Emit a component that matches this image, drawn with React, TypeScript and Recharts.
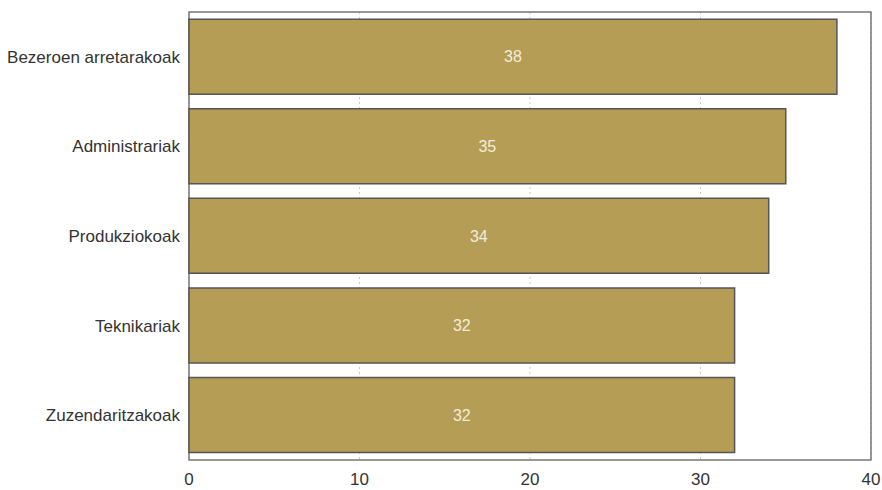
import { BarChart, Bar, XAxis, YAxis, CartesianGrid, LabelList, ReferenceArea } from 'recharts';

const categories = ['Bezeroen arretarakoak', 'Administrariak', 'Produkziokoak', 'Teknikariak', 'Zuzendaritzakoak'];
const values = [38, 35, 34, 32, 32];
const xTicks = [0, 10, 20, 30, 40];

const data = categories.map((name, i) => ({ name, value: values[i] }));

const font = "'Liberation Sans', Arial, sans-serif";

export default function App() {
  return (
    <div style={{ position: 'absolute', left: 0, top: 0, background: '#fff' }}>
      <BarChart
        width={882}
        height={490}
        data={data}
        layout="vertical"
        margin={{ top: 12, right: 11, left: 0, bottom: 0 }}
        barCategoryGap="8%"
      >
        <CartesianGrid horizontal={false} stroke="#c8c8c8" strokeDasharray="2 3" />
        <XAxis
          type="number"
          domain={[0, 40]}
          ticks={xTicks}
          axisLine={false}
          tickLine={false}
          tickSize={6}
          tickMargin={7}
          height={30}
          tick={{ fill: '#333', fontSize: 17, fontFamily: font }}
        />
        <YAxis
          type="category"
          dataKey="name"
          width={189}
          axisLine={false}
          tickLine={false}
          tickSize={4}
          tickMargin={5}
          tick={{ fill: '#333', fontSize: 17, fontFamily: font }}
        />
        <Bar dataKey="value" fill="#b59d55" stroke="#555" strokeWidth={1.5} isAnimationActive={false}>
          <LabelList dataKey="value" position="center" fill="#f3ecdc" fontSize={16} fontFamily={font} />
        </Bar>
        <ReferenceArea x1={0} x2={40} fill="none" stroke="#777" strokeWidth={1.5} ifOverflow="visible" />
      </BarChart>
    </div>
  );
}
